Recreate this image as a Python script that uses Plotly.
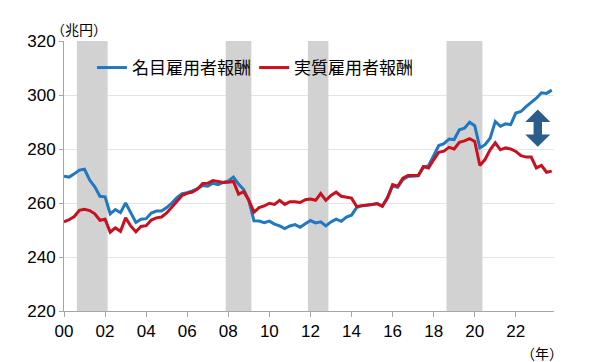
import plotly.graph_objects as go

# Quarterly data, 2000Q1 - 2023Q4 (trillion yen)
years = list(range(2000, 2024))
quarters = [f"{y}Q{q}" for y in years for q in range(1, 5)]

nominal = [
    269.9, 269.6, 270.8, 272.2,   # 2000
    272.5, 268.5, 266.0, 262.5,   # 2001
    262.3, 256.0, 257.6, 256.4,   # 2002
    260.0, 256.5, 252.8, 254.0,   # 2003
    254.2, 256.3, 257.0, 257.0,   # 2004
    258.3, 260.0, 262.0, 263.5,   # 2005
    263.8, 264.5, 265.3, 266.5,   # 2006
    266.2, 267.3, 266.8, 267.6,   # 2007
    268.2, 269.6, 267.0, 265.0,   # 2008
    261.0, 253.4, 253.3, 252.7,   # 2009
    253.3, 252.2, 251.5, 250.5,   # 2010
    251.5, 252.0, 251.0, 252.3,   # 2011
    253.5, 252.6, 253.0, 251.5,   # 2012
    253.0, 254.0, 253.2, 254.8,   # 2013
    255.5, 258.3, 259.0, 259.2,   # 2014
    259.4, 259.9, 258.9, 262.0,   # 2015
    266.3, 265.8, 268.6, 269.8,   # 2016
    270.0, 270.1, 273.2, 273.8,   # 2017
    277.5, 281.3, 282.0, 283.7,   # 2018
    283.5, 287.1, 287.7, 289.9,   # 2019
    288.6, 280.4, 281.6, 284.0,   # 2020
    290.2, 288.4, 289.3, 289.0,   # 2021
    293.3, 293.9, 295.7, 297.3,   # 2022
    298.8, 300.8, 300.6, 301.8,   # 2023
]

real = [
    253.0, 253.8, 255.0, 257.3,   # 2000
    257.7, 257.2, 256.0, 253.6,   # 2001
    254.0, 249.2, 250.8, 249.5,   # 2002
    254.5, 251.5, 249.3, 251.3,   # 2003
    251.6, 253.7, 254.5, 254.8,   # 2004
    256.3, 258.5, 260.8, 262.8,   # 2005
    263.6, 264.0, 265.2, 267.2,   # 2006
    267.3, 268.3, 268.0, 267.6,   # 2007
    267.7, 268.0, 263.3, 264.2,   # 2008
    261.0, 256.6, 258.3, 258.9,   # 2009
    259.9, 259.5, 261.0, 259.5,   # 2010
    260.5, 260.5, 260.2, 261.2,   # 2011
    261.5, 261.0, 263.5, 261.0,   # 2012
    262.8, 264.0, 262.5, 262.2,   # 2013
    261.8, 258.7, 259.0, 259.3,   # 2014
    259.5, 259.7, 258.8, 261.8,   # 2015
    266.8, 266.2, 269.2, 270.2,   # 2016
    270.2, 270.2, 273.5, 273.0,   # 2017
    276.0, 278.8, 279.2, 280.6,   # 2018
    280.0, 282.5, 283.0, 283.8,   # 2019
    282.8, 273.9, 276.1, 279.7,   # 2020
    282.3, 279.7, 280.4, 280.0,   # 2021
    279.1, 277.5, 277.0, 277.0,   # 2022
    273.0, 273.9, 271.4, 271.8,   # 2023
]

# Recession periods (first quarter, last quarter) - shaded
recessions = [("2000Q4", "2002Q1"), ("2008Q1", "2009Q1"),
              ("2012Q1", "2012Q4"), ("2018Q4", "2020Q2")]

tick_years = list(range(2000, 2023, 2))
tick_labels = [f"{y % 100:02d}" for y in tick_years]

series_names = ["名目雇用者報酬", "実質雇用者報酬"]
colors = ["#1f78c1", "#c8101e"]
legend_ids = ["legend", "legend2"]

# arrow (gap indicator) position in data units
arrow_x = 2023.07
arrow_top = 294.6
arrow_bottom = 280.8


def qpos(label):
    y, q = label.split("Q")
    return int(y) + (int(q) - 1) / 4


xs = [qpos(q) for q in quarters]

fig = go.Figure()
for name, vals, col, lg in zip(series_names, [nominal, real], colors, legend_ids):
    fig.add_trace(go.Scatter(x=xs, y=vals, mode="lines", name=name, legend=lg,
                             line=dict(color=col, width=3)))

for a, b in recessions:
    fig.add_shape(type="rect", xref="x", yref="y",
                  x0=qpos(a) - 0.125, x1=qpos(b) + 0.125, y0=220, y1=320,
                  fillcolor="#d3d2d3", line=dict(width=0), layer="between")

# double-headed arrow
hw, sw, hh = 0.61, 0.205, 4.6
pts = [(arrow_x, arrow_top), (arrow_x + hw, arrow_top - hh), (arrow_x + sw, arrow_top - hh),
       (arrow_x + sw, arrow_bottom + hh), (arrow_x + hw, arrow_bottom + hh),
       (arrow_x, arrow_bottom), (arrow_x - hw, arrow_bottom + hh),
       (arrow_x - sw, arrow_bottom + hh), (arrow_x - sw, arrow_top - hh),
       (arrow_x - hw, arrow_top - hh)]
path = "M " + " L ".join(f"{px},{py}" for px, py in pts) + " Z"
fig.add_shape(type="path", xref="x", yref="y", path=path,
              fillcolor="#2c5c8c", line=dict(width=0), layer="above")

num_font = dict(family="Liberation Sans, Arial, sans-serif", size=17, color="black")
jp_font = "Noto Sans CJK JP"
legend_style = dict(orientation="h", y=0.9, xanchor="left", yanchor="middle",
                    bgcolor="rgba(0,0,0,0)", font=dict(family=jp_font, size=17, color="black"),
                    itemwidth=30)

# page body adds an 8px margin, so the figure is 8px smaller than the window
fig.update_layout(
    width=592, height=354,
    margin=dict(l=56, r=46, t=33, b=51),
    paper_bgcolor="white", plot_bgcolor="white",
    showlegend=True,
    legend=dict(x=0.057, **legend_style),
    legend2=dict(x=0.388, **legend_style),
    xaxis=dict(range=[2000, 2023.86], tickvals=tick_years, ticktext=tick_labels,
               tickfont=num_font, showgrid=False, zeroline=False,
               showline=True, linecolor="#a6a6a6", linewidth=1,
               ticks="outside", ticklen=5, tickcolor="#a6a6a6"),
    yaxis=dict(range=[220, 320], dtick=20, tickfont=num_font,
               showgrid=True, gridcolor="#e4e4e4", gridwidth=1, zeroline=False,
               showline=True, linecolor="#a6a6a6", linewidth=1,
               ticks="outside", ticklen=4, tickcolor="#a6a6a6"),
    annotations=[
        dict(text="（兆円）", xref="paper", yref="paper", x=-0.03, y=1.0,
             xanchor="left", yanchor="bottom", showarrow=False,
             font=dict(family=jp_font, size=14, color="black")),
        dict(text="（年）", xref="paper", yref="paper", x=1.0, y=0,
             xanchor="center", yanchor="top", showarrow=False, yshift=-30, xshift=-12,
             font=dict(family=jp_font, size=14, color="black")),
    ],
)

fig.write_html("out.html")
